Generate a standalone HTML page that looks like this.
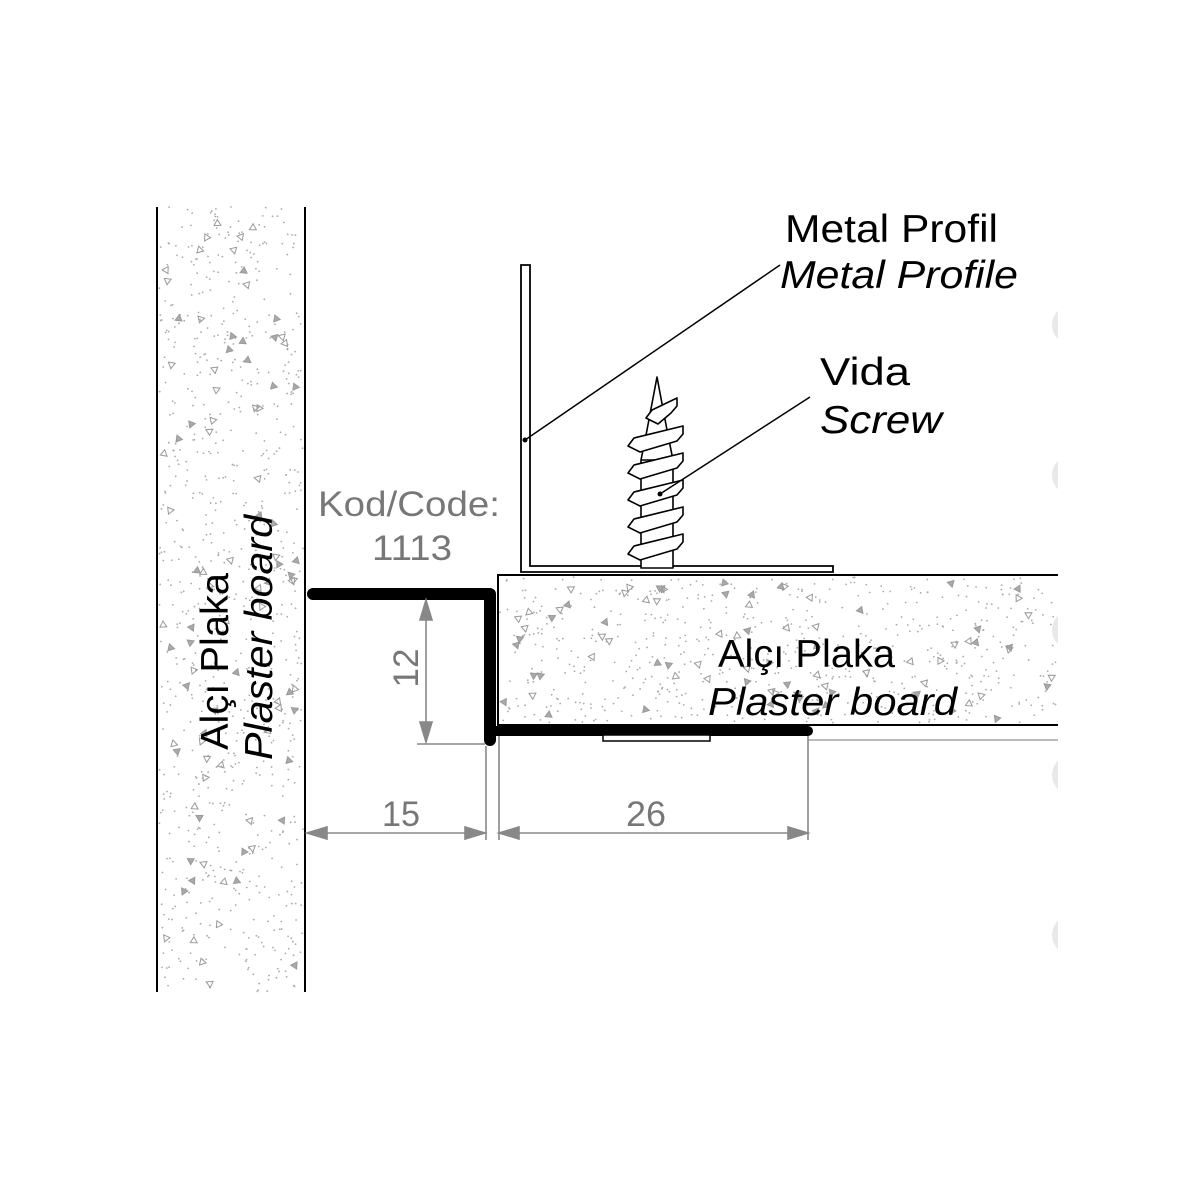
<!DOCTYPE html>
<html><head><meta charset="utf-8"><style>
html,body{margin:0;padding:0;background:#fff}
svg{display:block}
text{font-family:"Liberation Sans",sans-serif}
</style></head><body>
<svg id="s" width="1200" height="1200" viewBox="0 0 1200 1200" xmlns="http://www.w3.org/2000/svg">
<rect width="1200" height="1200" fill="#fff"/>
<g fill="#e8e8e8">
<circle cx="1072" cy="325" r="20"/><circle cx="1072" cy="475" r="20"/><circle cx="1072" cy="630" r="20"/><circle cx="1072" cy="775" r="20"/><circle cx="1072" cy="935" r="20"/>
</g>
<rect x="1058" y="0" width="142" height="1200" fill="#fff"/>
<g id="speck1"></g>
<g id="speck2"></g>
<line x1="157" y1="207" x2="157" y2="992" stroke="#000" stroke-width="2"/>
<line x1="305" y1="207" x2="305" y2="992" stroke="#000" stroke-width="2"/>
<polyline points="1058,575 498,575 498,725 1058,725" fill="none" stroke="#000" stroke-width="2"/>
<line x1="808" y1="740" x2="1058" y2="740" stroke="#bbb" stroke-width="2"/>
<path d="M521,265 L530,265 L530,566 L833,566 L833,572 L521,572 Z" fill="#fff" stroke="#000" stroke-width="1.8"/>
<g stroke="#000" stroke-width="1.6" fill="#fff" stroke-linejoin="round">
<polygon points="657,377 667,430 673,460 673,568 641,568 641,460 647,430"/>
<line x1="641" y1="460" x2="673" y2="460"/>
<g id="threads"></g>
</g>
<polyline points="313,594 490,594 490,740" fill="none" stroke="#000" stroke-width="12" stroke-linecap="round" stroke-linejoin="round"/>
<line x1="490" y1="731" x2="808" y2="731" stroke="#000" stroke-width="10" stroke-linecap="round"/>
<rect x="603" y="735" width="107" height="6" fill="#fff" stroke="#000" stroke-width="1.5"/>
<g stroke="#888" stroke-width="1.6" fill="#888">
<line x1="417" y1="744" x2="485" y2="744"/>
<line x1="426" y1="600" x2="426" y2="742"/>
<polygon points="426,600 420,620 432,620"/><polygon points="426,742 420,722 432,722"/>
<line x1="486" y1="746" x2="486" y2="840"/>
<line x1="499" y1="736" x2="499" y2="840"/>
<line x1="808" y1="736" x2="808" y2="840"/>
<line x1="307" y1="833" x2="485" y2="833"/>
<polygon points="307,833 327,827 327,839"/><polygon points="485,833 465,827 465,839"/>
<line x1="499" y1="833" x2="808" y2="833"/>
<polygon points="499,833 519,827 519,839"/><polygon points="808,833 788,827 788,839"/>
</g>
<g fill="#777" font-size="35" lengthAdjust="spacingAndGlyphs">
<text x="382" y="826" textLength="38" lengthAdjust="spacingAndGlyphs">15</text>
<text x="626" y="826" textLength="40" lengthAdjust="spacingAndGlyphs">26</text>
<text transform="translate(418,668) rotate(-90)" text-anchor="middle">12</text>
<text x="318" y="516" textLength="182" lengthAdjust="spacingAndGlyphs">Kod/Code:</text>
<text x="372" y="560" textLength="80" lengthAdjust="spacingAndGlyphs">1113</text>
</g>
<g stroke="#000" stroke-width="1.5">
<line x1="780" y1="265" x2="525" y2="440"/>
<line x1="810" y1="397" x2="660" y2="494"/>
</g>
<circle cx="525" cy="440" r="2.5"/><circle cx="660" cy="494" r="2.5"/>
<g fill="#000" font-size="39">
<text x="785" y="242" textLength="213" lengthAdjust="spacingAndGlyphs">Metal Profil</text>
<text x="780" y="288" font-style="italic" textLength="238" lengthAdjust="spacingAndGlyphs">Metal Profile</text>
<text x="820" y="385" textLength="90" lengthAdjust="spacingAndGlyphs">Vida</text>
<text x="820" y="433" font-style="italic" textLength="122" lengthAdjust="spacingAndGlyphs">Screw</text>
<text x="718" y="667" textLength="177" lengthAdjust="spacingAndGlyphs">Alçı Plaka</text>
<text x="708" y="715" font-style="italic" textLength="249" lengthAdjust="spacingAndGlyphs">Plaster board</text>
<text transform="translate(228,750) rotate(-90)" textLength="177" lengthAdjust="spacingAndGlyphs">Alçı Plaka</text>
<text transform="translate(272,760) rotate(-90)" font-style="italic" textLength="245" lengthAdjust="spacingAndGlyphs">Plaster board</text>
</g>
</svg>
<script>
(function(){
var ns="http://www.w3.org/2000/svg";
var seed=12345;function r(){seed=(seed*16807)%2147483647;return seed/2147483647;}
function fill(g,x0,y0,w,h,nd,nt){
 for(var i=0;i<nd;i++){var c=document.createElementNS(ns,"circle");c.setAttribute("cx",x0+r()*w);c.setAttribute("cy",y0+r()*h);c.setAttribute("r",0.9);c.setAttribute("fill","#aaa");g.appendChild(c);}
 for(var i=0;i<nt;i++){var x=x0+4+r()*(w-8),y=y0+4+r()*(h-8),a=r()*6.28,s=4;var p=[];for(var k=0;k<3;k++){p.push((x+s*Math.cos(a+k*2.094)).toFixed(1)+","+(y+s*Math.sin(a+k*2.094)).toFixed(1));}
 var t=document.createElementNS(ns,"polygon");t.setAttribute("points",p.join(" "));t.setAttribute("fill",r()<0.5?"#aaa":"none");t.setAttribute("stroke","#999");t.setAttribute("stroke-width","1");g.appendChild(t);}
}
fill(document.getElementById("speck1"),159,207,144,785,800,90);
fill(document.getElementById("speck2"),500,577,556,146,600,80);
var th=document.getElementById("threads");
var ys=[412,440,467,494,521,548];
for(var i=0;i<ys.length;i++){var y=ys[i];var l=i==0?646:628,rr=i==0?677:683;
 var p=document.createElementNS(ns,"polygon");
 p.setAttribute("points",l+","+(y+6)+" "+(l+6)+","+(y-2)+" "+rr+","+(y-14)+" "+rr+","+(y-6)+" "+(rr-6)+","+(y+1)+" "+(l+12)+","+(y+12));
 th.appendChild(p);}
})();
</script>
</body></html>
